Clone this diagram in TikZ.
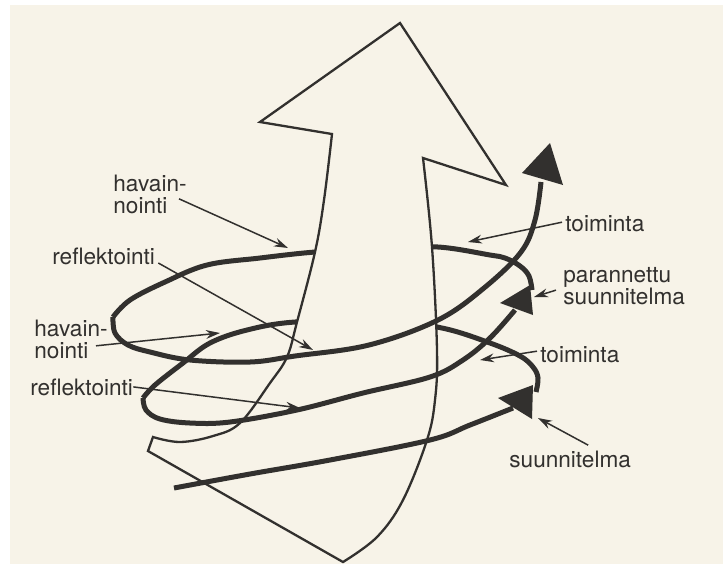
\documentclass[tikz,border=0pt]{standalone}
\usepackage{fontspec}
\setmainfont{TeX Gyre Heros}
\usetikzlibrary{arrows.meta}
\definecolor{ink}{RGB}{50,48,46}
\definecolor{paper}{RGB}{247,243,232}
\tikzset{
  lbl/.style={font=\fontsize{11.3}{11}\selectfont,text=ink,inner sep=0pt,align=left},
  ptr/.style={-{Stealth[length=7pt,width=4.4pt]},line width=0.75pt,draw=ink},
  helix/.style={line width=2.5pt,draw=ink},
  shaft/.style={line width=1.15pt,draw=ink,fill=paper,line join=miter},
  tiphead/.style={fill=ink},
}

\begin{document}
\begin{tikzpicture}[x=0.5pt,y=-0.5pt]
\fill[white] (0,0) rectangle (723,564);
\fill[paper] (10,5) rectangle (723,564);
\useasboundingbox (0,0) rectangle (723,564);

% back halves of the spiral, hidden by the big arrow
\draw[helix] plot[smooth,tension=0.6] coordinates {(536,392) (538,378) (533,367) (520,356)
  (490,343) (442,328) (380,320) (295,322) (247,330) (210,343) (183,363) (155,385) (143,398)};
\draw[helix] plot[smooth,tension=0.6] coordinates {(532,290) (529,276) (520,266) (505,258)
  (490,255) (438,247) (380,248) (315,252) (260,258) (207,265) (165,282) (130,300) (113,317)};

% the big arrow
\draw[shaft] (400,23) -- (260,122)
  -- plot[smooth,tension=0.6] coordinates {(332,134) (324,200) (315,252) (297,322) (287,357)
     (270,383) (240,423) (213,436) (180,442) (153,437)}
  -- (148,451) -- (343,562)
  -- plot[smooth,tension=0.6] coordinates {(343,562) (377,537) (403,500) (427,440) (435,400)
     (437,350) (432,247) (423,158)}
  -- (506,185) -- cycle;

% front halves of the spiral
\draw[helix] plot[smooth,tension=0.6] coordinates {(174,488) (250,474) (330,460) (430,440)
  (470,425) (513,408)};
\draw[helix] plot[smooth,tension=0.6] coordinates {(143,398) (146,410) (160,419) (190,423)
  (230,422) (297,410) (363,393) (430,377) (463,360) (490,338) (515,310)};
\draw[helix] plot[smooth,tension=0.6] coordinates {(113,317) (115,333) (128,345) (150,352)
  (190,360) (250,362) (295,356) (369,345) (438,320) (484,288) (521,252) (535,220) (541,182)};
\fill[tiphead] (498,398) -- (533,385) -- (532,419) -- cycle;
\fill[tiphead] (500,303) -- (530,285) -- (533,315) -- cycle;
\fill[tiphead] (522,173) -- (550,143) -- (563,185) -- cycle;

% labels
\node[lbl,anchor=north west] (hav1) at (113,175) {havain-\\nointi};
\node[lbl,anchor=base west] (refl1) at (52,264) {reflektointi};
\node[lbl,anchor=north west] (hav2) at (34,320) {havain-\\nointi};
\node[lbl,anchor=base west] (refl2) at (30,395) {reflektointi};
\node[lbl,anchor=base west] (toim1) at (565,231) {toiminta};
\node[lbl,anchor=north west] (paran) at (563,267) {parannettu\\suunnitelma};
\node[lbl,anchor=base west] (toim2) at (540,362) {toiminta};
\node[lbl,anchor=base west] (sun) at (509,467) {suunnitelma};

\coordinate (hav1T) at (288,248);
\coordinate (refl1T) at (313,350);
\coordinate (hav2T) at (220,333);
\coordinate (refl2T) at (300,408);
\coordinate (toim1T) at (468,242);
\coordinate (paranT) at (534,297);
\coordinate (toim2T) at (480,360);
\coordinate (sunT) at (538,418);

\draw[ptr] ([shift={(-8,4)}]hav1.east) -- (hav1T);
\draw[ptr] ([shift={(3,-1)}]refl1.base east) -- (refl1T);
\draw[ptr] ([shift={(-12,6)}]hav2.east) -- (hav2T);
\draw[ptr] (refl2.east) -- (refl2T);
\draw[ptr] ([shift={(-3,-1)}]toim1.west) -- (toim1T);
\draw[ptr] ([shift={(-7,4)}]paran.west) -- (paranT);
\draw[ptr] ([shift={(-3,-3)}]toim2.west) -- (toim2T);
\draw[ptr] ([shift={(18,-5)}]sun.north) -- (sunT);
\end{tikzpicture}
\end{document}
